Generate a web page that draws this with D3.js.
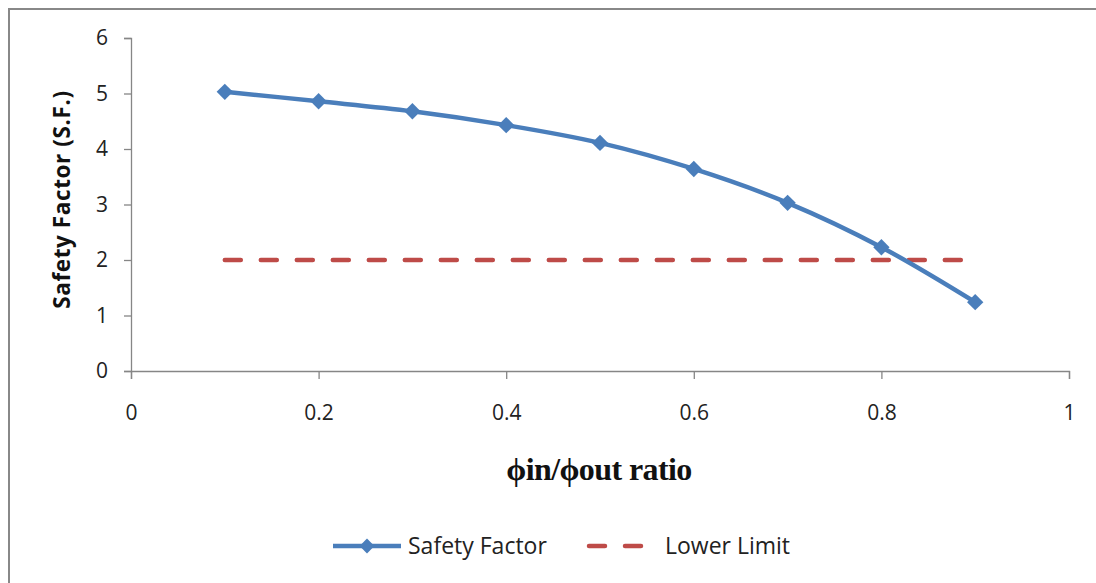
<!DOCTYPE html>
<html>
<head>
<meta charset="utf-8">
<script src="https://cdn.jsdelivr.net/npm/d3@7"></script>
<style>
  html, body { margin: 0; padding: 0; background: #fff; }
  svg { display: block; }
</style>
</head>
<body>
<svg id="chart" width="1096" height="583"></svg>
<script>
// Safety factor against inner/outer diameter ratio
const ratios = [0.1, 0.2, 0.3, 0.4, 0.5, 0.6, 0.7, 0.8, 0.9];
const safetyFactor = [5.03, 4.86, 4.68, 4.43, 4.11, 3.64, 3.03, 2.23, 1.24];
const lowerLimit = [2, 2, 2, 2, 2, 2, 2, 2, 2];
const xTicks = [0, 0.2, 0.4, 0.6, 0.8, 1];
const yTicks = [0, 1, 2, 3, 4, 5, 6];
const seriesNames = ["Safety Factor", "Lower Limit"];
const seriesColors = ["#4a7ebb", "#be4b48"];

const svg = d3.select("#chart");
const sansFont = "'Open Sans', Lato, sans-serif";

// outer frame
svg.append("rect")
  .attr("x", 9).attr("y", 9).attr("width", 1100).attr("height", 600)
  .attr("fill", "#fff").attr("stroke", "#888").attr("stroke-width", 2);

const x = d3.scaleLinear().domain([0, 1]).range([131, 1069]);
const y = d3.scaleLinear().domain([0, 6]).range([371, 38]);

// y axis
const yAxis = svg.append("g")
  .attr("transform", `translate(${x(0)},0)`)
  .call(d3.axisLeft(y).tickValues(yTicks).tickSize(7).tickPadding(16).tickFormat(d3.format("d")));
// x axis
const xAxis = svg.append("g")
  .attr("transform", `translate(0,${y(0)})`)
  .call(d3.axisBottom(x).tickValues(xTicks).tickSize(8).tickPadding(26)
    .tickFormat(d => d === 0 || d === 1 ? String(d) : d.toFixed(1)));

[yAxis, xAxis].forEach(g => {
  g.select(".domain").attr("stroke", "#868686").attr("stroke-width", 1.3);
  g.selectAll(".tick line").attr("stroke", "#868686").attr("stroke-width", 1.3);
  g.selectAll(".tick text").attr("fill", "#222").style("font-family", sansFont).style("font-size", "21px");
});

// axis titles
svg.append("text")
  .attr("transform", `translate(70,${(y(0) + y(6)) / 2 - 5}) rotate(-90)`)
  .attr("text-anchor", "middle")
  .style("font-family", sansFont).style("font-weight", "bold").style("font-size", "22.5px")
  .style("letter-spacing", "0.6px")
  .attr("fill", "#111")
  .text("Safety Factor (S.F.)");

svg.append("text")
  .attr("x", 599).attr("y", 480)
  .attr("text-anchor", "middle")
  .style("font-family", "'Liberation Serif', 'DejaVu Serif', serif")
  .style("font-weight", "bold").style("font-size", "32px")
  .style("letter-spacing", "-0.6px")
  .attr("fill", "#111")
  .text("\u03D5in/\u03D5out ratio");

// lower limit (dashed)
const flatLine = d3.line().x((d, i) => x(ratios[i])).y(d => y(d));
svg.append("path")
  .datum(lowerLimit)
  .attr("d", flatLine)
  .attr("fill", "none")
  .attr("stroke", seriesColors[1])
  .attr("stroke-width", 4.5)
  .attr("stroke-linecap", "round")
  .attr("stroke-dasharray", "16 20");

// safety factor (smoothed)
const smoothLine = d3.line()
  .x((d, i) => x(ratios[i])).y(d => y(d))
  .curve(d3.curveCatmullRom.alpha(0.5));
svg.append("path")
  .datum(safetyFactor)
  .attr("d", smoothLine)
  .attr("fill", "none")
  .attr("stroke", seriesColors[0])
  .attr("stroke-width", 4.5)
  .attr("stroke-linejoin", "round");

const diamond = d3.symbol().type(d3.symbolDiamond2).size(170);
svg.selectAll(".marker")
  .data(safetyFactor)
  .join("path")
  .attr("class", "marker")
  .attr("transform", (d, i) => `translate(${x(ratios[i])},${y(d)})`)
  .attr("d", diamond)
  .attr("fill", seriesColors[0]);

// legend
const legY = 546;
const leg = svg.append("g");
leg.append("line")
  .attr("x1", 333).attr("x2", 401).attr("y1", legY).attr("y2", legY)
  .attr("stroke", seriesColors[0]).attr("stroke-width", 4.5);
leg.append("path")
  .attr("transform", `translate(367,${legY})`)
  .attr("d", d3.symbol().type(d3.symbolDiamond2).size(140))
  .attr("fill", seriesColors[0]);
leg.append("text")
  .attr("x", 408).attr("y", legY + 8)
  .style("font-family", sansFont).style("font-size", "23px").attr("fill", "#222")
  .text(seriesNames[0]);
leg.append("line")
  .attr("x1", 589).attr("x2", 643).attr("y1", legY).attr("y2", legY)
  .attr("stroke", seriesColors[1]).attr("stroke-width", 4.5)
  .attr("stroke-linecap", "round")
  .attr("stroke-dasharray", "16 20");
leg.append("text")
  .attr("x", 665).attr("y", legY + 8)
  .style("font-family", sansFont).style("font-size", "23px").attr("fill", "#222")
  .text(seriesNames[1]);
</script>
</body>
</html>
